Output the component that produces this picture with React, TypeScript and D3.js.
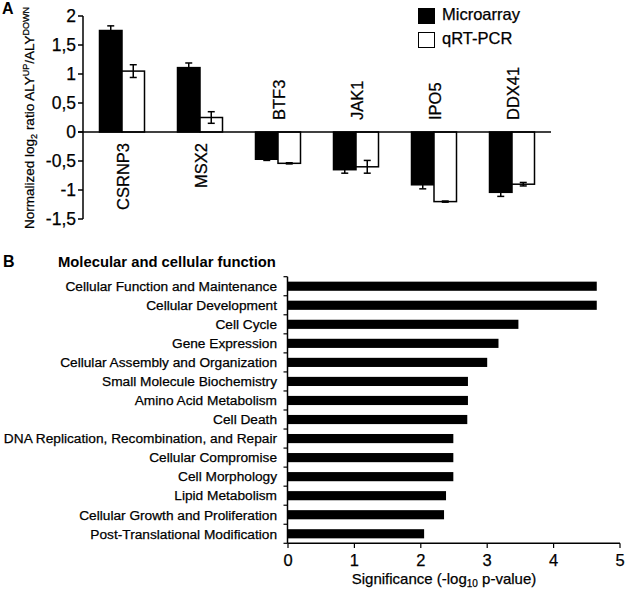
import React from "react";
import * as d3 from "d3";

const genes = ["CSRNP3", "MSX2", "BTF3", "JAK1", "IPO5", "DDX41"];
const seriesNames = ["Microarray", "qRT-PCR"];
const microarray = [1.75, 1.11, -0.47, -0.65, -0.91, -1.04];
const microarrayErr = [0.08, 0.08, 0.02, 0.06, 0.07, 0.07];
const qrtpcr = [1.05, 0.25, -0.54, -0.6, -1.2, -0.9];
const qrtpcrErr = [0.11, 0.1, 0.01, 0.11, 0.01, 0.03];
const yTicksA = [2, 1.5, 1, 0.5, 0, -0.5, -1, -1.5];

const functions = [
  "Cellular Function and Maintenance",
  "Cellular Development",
  "Cell Cycle",
  "Gene Expression",
  "Cellular Assembly and Organization",
  "Small Molecule Biochemistry",
  "Amino Acid Metabolism",
  "Cell Death",
  "DNA Replication, Recombination, and Repair",
  "Cellular Compromise",
  "Cell Morphology",
  "Lipid Metabolism",
  "Cellular Growth and Proliferation",
  "Post-Translational Modification",
];
const significance = [4.65, 4.65, 3.47, 3.17, 3.0, 2.71, 2.71, 2.7, 2.49, 2.49, 2.49, 2.38, 2.35, 2.05];
const xTicksB = [0, 1, 2, 3, 4, 5];

const FONT = "'Liberation Sans', Arial, Helvetica, sans-serif";

export default function App() {
  const xA = d3.scaleBand<string>().domain(genes).range([83, 551]);
  const inner = d3.scaleBand<string>().domain(seriesNames).range([0, 45]);
  const groupOffset = (xA.bandwidth() - 45) / 2;
  const yA = d3.scaleLinear().domain([-1.5, 2]).range([219, 16]);
  const fmt = (v: number) => String(v).replace(".", ",");

  const seriesVals = [microarray, qrtpcr];
  const seriesErr = [microarrayErr, qrtpcrErr];
  const fills = ["#000", "#fff"];

  const yB = d3.scaleBand<string>().domain(functions).range([276.7, 543.3]).paddingInner(0.52).paddingOuter(0.26);
  const xB = d3.scaleLinear().domain([0, 5]).range([288, 620]);
  const bandStep = (543.3 - 276.7) / functions.length;
  const ts = { stroke: "#000", strokeWidth: 0.25 };

  return (
    <svg width={625} height={597} style={{ position: "absolute", left: 0, top: 0, background: "#fff" }} fontFamily={FONT}>
      <rect x={0} y={0} width={625} height={597} fill="#fff" />
      {/* Panel A */}
      <text x={2} y={14} fontSize={16} fontWeight="bold">A</text>
      <text transform="translate(34,118) rotate(-90)" textAnchor="middle" fontSize={13.5} {...ts}>
        Normalized log<tspan fontSize={9} dy={3}>2</tspan>
        <tspan dy={-3}> ratio ALY</tspan>
        <tspan fontSize={9} dy={-5}>UP</tspan>
        <tspan dy={5}>/ALY</tspan>
        <tspan fontSize={9} dy={-5}>DOWN</tspan>
      </text>
      <line x1={83} x2={83} y1={yA(2)} y2={yA(-1.5)} stroke="#000" strokeWidth={1.5} />
      {yTicksA.map((t) => (
        <g key={t}>
          <line x1={78} x2={83} y1={yA(t)} y2={yA(t)} stroke="#000" strokeWidth={1.5} />
          <text x={76} y={yA(t) + 6} textAnchor="end" fontSize={17.5} {...ts}>{fmt(t)}</text>
        </g>
      ))}
      {genes.map((g, i) => (
        <g key={g}>
          {seriesNames.map((s, k) => {
            const v = seriesVals[k][i];
            const e = seriesErr[k][i];
            const x0 = (xA(g) as number) + groupOffset + (inner(s) as number);
            const w = inner.bandwidth();
            const cx = x0 + w / 2;
            return (
              <g key={s}>
                <rect x={x0} y={Math.min(yA(v), yA(0))} width={w} height={Math.abs(yA(v) - yA(0))} fill={fills[k]} stroke="#000" strokeWidth={1.5} />
                <line x1={cx} x2={cx} y1={yA(v - e)} y2={yA(v + e)} stroke="#000" strokeWidth={1.5} />
                <line x1={cx - 3.5} x2={cx + 3.5} y1={yA(v + e)} y2={yA(v + e)} stroke="#000" strokeWidth={1.5} />
                <line x1={cx - 3.5} x2={cx + 3.5} y1={yA(v - e)} y2={yA(v - e)} stroke="#000" strokeWidth={1.5} />
              </g>
            );
          })}
        </g>
      ))}
      <line x1={78} x2={551} y1={yA(0)} y2={yA(0)} stroke="#000" strokeWidth={1.5} />
      {genes.map((g, i) => {
        const cx = (xA(g) as number) + xA.bandwidth() / 2;
        const pos = microarray[i] > 0;
        const y = pos ? 143 : 120;
        return (
          <text key={g} transform={`translate(${cx + 7},${y}) rotate(-90)`} textAnchor={pos ? "end" : "start"} fontSize={16.5} {...ts}>
            {g}
          </text>
        );
      })}
      {seriesNames.map((s, k) => (
        <g key={s}>
          <rect x={418.5} y={8.5 + k * 24} width={16} height={15} fill={fills[k]} stroke="#000" strokeWidth={1} />
          <text x={442} y={20 + k * 24} fontSize={16.5} {...ts}>{s}</text>
        </g>
      ))}

      {/* Panel B */}
      <text x={3} y={267} fontSize={16} fontWeight="bold">B</text>
      <text x={58} y={267} fontSize={14.8} fontWeight="bold">Molecular and cellular function</text>
      {functions.map((f, i) => {
        const y0 = yB(f) as number;
        return (
          <g key={f}>
            <rect x={xB(0)} y={y0} width={xB(significance[i]) - xB(0)} height={yB.bandwidth()} fill="#000" />
            <text x={277} y={y0 + yB.bandwidth() / 2 + 4.8} textAnchor="end" fontSize={13.7} {...ts}>{f}</text>
          </g>
        );
      })}
      <line x1={287.5} x2={287.5} y1={276.7} y2={543.3} stroke="#000" strokeWidth={1.5} />
      {d3.range(functions.length + 1).map((i) => (
        <line key={i} x1={283.5} x2={287.5} y1={276.7 + i * bandStep} y2={276.7 + i * bandStep} stroke="#000" strokeWidth={1.2} />
      ))}
      <line x1={287.5} x2={620} y1={543.3} y2={543.3} stroke="#000" strokeWidth={1.5} />
      {xTicksB.map((t) => (
        <g key={t}>
          <line x1={xB(t)} x2={xB(t)} y1={543.3} y2={548} stroke="#000" strokeWidth={1.2} />
          <text x={xB(t)} y={566} textAnchor="middle" fontSize={16.5} {...ts}>{t}</text>
        </g>
      ))}
      <text x={444} y={584} textAnchor="middle" fontSize={15} {...ts}>
        Significance (-log<tspan fontSize={10} dy={3}>10</tspan>
        <tspan dy={-3}> p-value)</tspan>
      </text>
    </svg>
  );
}
